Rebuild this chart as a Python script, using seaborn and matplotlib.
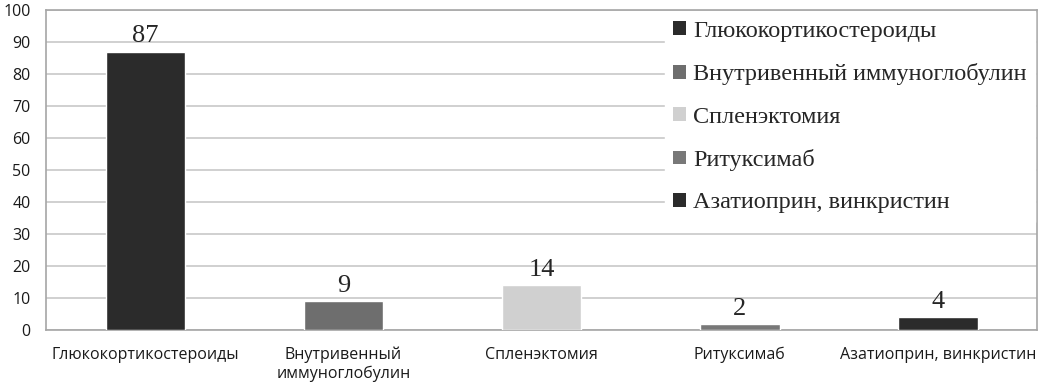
import matplotlib.pyplot as plt
import seaborn as sns
import pandas as pd
from matplotlib.patches import Patch
from matplotlib.font_manager import FontProperties

# data
categories = ['Глюкокортикостероиды', 'Внутривенный иммуноглобулин', 'Спленэктомия',
              'Ритуксимаб', 'Азатиоприн, винкристин']
tick_labels = ['Глюкокортикостероиды', 'Внутривенный\nиммуноглобулин', 'Спленэктомия',
               'Ритуксимаб', 'Азатиоприн, винкристин']
values = [87, 9, 14, 2, 4]
colors = ['#2b2b2b', '#6e6e6e', '#d0d0d0', '#787878', '#2b2b2b']

df = pd.DataFrame({'cat': categories, 'val': values})

sns.set_style('white')
plt.rcParams['font.family'] = ['Open Sans', 'DejaVu Sans']
serif = FontProperties(family='Liberation Serif', size=17.5)

fig = plt.figure(figsize=(10.39, 3.83), dpi=100)
ax = fig.add_axes([0.0443, 0.138, 0.954, 0.836])

sns.barplot(data=df, x='cat', y='val', hue='cat', palette=colors, width=0.4,
            legend=False, saturation=1, ax=ax, zorder=3)

# value labels
for cont in ax.containers:
    ax.bar_label(cont, fontsize=19, family='Liberation Serif', padding=3)

ax.set_ylim(0, 100)
ax.set_xlim(-0.5, 4.5)
ax.set_yticks(range(0, 101, 10))
ax.set_xticks(range(len(tick_labels)))
ax.set_xticklabels(tick_labels, fontsize=11.5, color='#1a1a1a')
ax.tick_params(axis='y', labelsize=11.5, colors='#1a1a1a', length=0, pad=11)
ax.tick_params(axis='x', length=0, pad=12)
ax.yaxis.grid(True, color='#c8c8c8', linewidth=1.2, zorder=0)
ax.set_axisbelow(True)
ax.set_xlabel('')
ax.set_ylabel('')
for s in ax.spines.values():
    s.set_color('#a6a6a6')
    s.set_linewidth(1.2)

handles = [Patch(facecolor=c, edgecolor='none') for c in colors]
leg = ax.legend(handles, categories, loc='upper right', bbox_to_anchor=(1.0, 1.0),
                frameon=True, fancybox=False, framealpha=1, edgecolor='white',
                prop=serif, handlelength=0.5, handleheight=0.5, handletextpad=0.3,
                labelspacing=0.88, borderpad=0.35, borderaxespad=0.1)
leg.set_zorder(5)

fig.savefig('out.png', dpi=100)
